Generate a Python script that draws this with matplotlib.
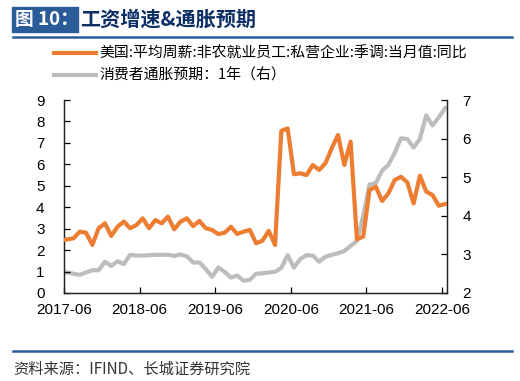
import numpy as np
import matplotlib
matplotlib.use('Agg')
import matplotlib.pyplot as plt
from matplotlib.patches import Rectangle
from matplotlib.lines import Line2D

plt.rcParams['font.family'] = ['Noto Sans CJK SC', 'DejaVu Sans']

# 数据：2017-05 ~ 2022-06 月度
wage_yoy = [2.45, 2.50, 2.55, 2.86, 2.81, 2.24, 3.02, 3.25, 2.66, 3.09,
            3.33, 3.02, 3.17, 3.48, 3.02, 3.40, 3.25, 3.56, 2.97, 3.33,
            3.48, 3.12, 3.36, 3.02, 2.94, 2.75, 2.81, 3.09, 2.75, 2.86,
            2.94, 2.32, 2.44, 2.90, 2.24, 7.56, 7.68, 5.54, 5.58, 5.50,
            5.97, 5.74, 6.05, 6.75, 7.37, 5.97, 7.06, 2.50, 2.63, 4.80,
            4.96, 4.29, 4.65, 5.27, 5.42, 5.16, 4.18, 5.47, 4.73, 4.57,
            4.07, 4.15]
infl_exp = [2.53, 2.53, 2.50, 2.47, 2.53, 2.59, 2.59, 2.81, 2.70, 2.82,
            2.75, 2.99, 2.97, 2.97, 2.98, 2.99, 2.99, 2.99, 2.96, 3.00,
            2.95, 2.79, 2.79, 2.62, 2.42, 2.66, 2.55, 2.40, 2.45, 2.32,
            2.34, 2.50, 2.51, 2.53, 2.55, 2.65, 2.98, 2.66, 2.88, 2.98,
            2.97, 2.81, 2.94, 2.99, 3.03, 3.09, 3.22, 3.35, 4.00, 4.81,
            4.85, 5.17, 5.32, 5.63, 6.01, 5.99, 5.77, 5.99, 6.60, 6.34,
            6.55, 6.79]
tick_labels = ['2017-06', '2018-06', '2019-06', '2020-06', '2021-06', '2022-06']
label_wage = '美国:平均周薪:非农就业员工:私营企业:季调:当月值:同比'
label_infl = '消费者通胀预期：1年（右）'

orange = '#ED7D31'
gray = '#BDBDBD'
navy = '#2B5C9A'

fig = plt.figure(figsize=(5.2, 3.81), dpi=100)

# 标题
fig.patches.append(Rectangle((12 / 520, 1 - 32 / 381), 66 / 520, 25 / 381,
                             transform=fig.transFigure, color=navy, zorder=1))
fig.text(15 / 520, 1 - 19.5 / 381, '图 10：', color='white', fontsize=13.5,
         fontweight='bold', va='center', ha='left', zorder=2)
fig.text(80 / 520, 1 - 19.5 / 381, '工资增速&通胀预期', color='#0E2F66',
         fontsize=14.5, fontweight='bold', va='center', ha='left')
fig.add_artist(Line2D([13 / 520, 512 / 520], [1 - 37 / 381, 1 - 37 / 381],
                      transform=fig.transFigure, color=navy, lw=1.8))

# 底部来源
fig.add_artist(Line2D([13 / 520, 512 / 520], [1 - 351 / 381, 1 - 351 / 381],
                      transform=fig.transFigure, color=navy, lw=1.8))
fig.text(13 / 520, 1 - 369 / 381, '资料来源：IFIND、长城证券研究院', color='#333333',
         fontsize=11, style='italic', va='center', ha='left')

ax = fig.add_axes([64 / 520, 88 / 381, 383 / 520, 193 / 381])
ax2 = ax.twinx()

x = np.arange(len(wage_yoy))
l1, = ax.plot(x, wage_yoy, color=orange, lw=3, zorder=3)
l2, = ax2.plot(x, infl_exp, color=gray, lw=3, zorder=2)
ax.set_zorder(ax2.get_zorder() + 1)
ax.patch.set_visible(False)

ax.set_xlim(0.5, 61.3)
ax.set_ylim(0, 9)
ax2.set_ylim(2, 7)
ax.set_yticks(range(0, 10))
ax2.set_yticks(range(2, 8))
ax.set_xticks([0.5 + 12 * i for i in range(len(tick_labels))])
ax.set_xticklabels(tick_labels)

for a in (ax, ax2):
    a.spines['top'].set_visible(False)
    for s in a.spines.values():
        s.set_linewidth(0.9)
        s.set_color('#222222')
    a.tick_params(direction='in', length=4, width=0.9, labelsize=11)
    for lab in a.get_xticklabels() + a.get_yticklabels():
        lab.set_family(['Liberation Sans', 'DejaVu Sans'])
ax.tick_params(axis='y', pad=14)
ax.tick_params(axis='x', pad=7)
ax2.tick_params(axis='y', pad=11)

fig.legend([l1, l2], [label_wage, label_infl], loc='upper left',
           bbox_to_anchor=(54 / 520, 1 - 47 / 381), frameon=False,
           fontsize=10.7, handlelength=2.8, handletextpad=0.25,
           labelspacing=0.5, borderaxespad=0, borderpad=0)

fig.savefig('out.png', dpi=100)
